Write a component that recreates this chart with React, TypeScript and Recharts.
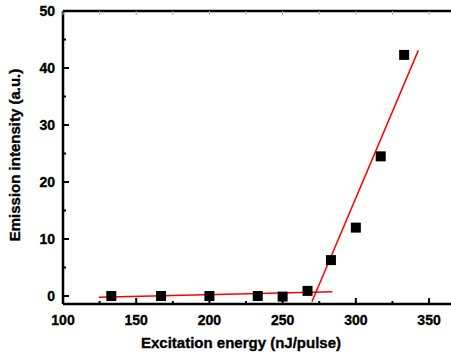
import { ComposedChart, Scatter, XAxis, YAxis, Label, ReferenceLine } from "recharts";

const energy = [133, 167, 200, 233, 250, 267, 283, 300, 317, 333];
const intensity = [0, 0, 0, 0, -0.1, 0.9, 6.3, 12, 24.5, 42.3];

const lowFit = [
  { x: 124.5, y: -0.2 },
  { x: 284, y: 0.75 },
];
const highFit = [
  { x: 270, y: -1.0 },
  { x: 342.7, y: 43.1 },
];

const xMajor = [100, 150, 200, 250, 300, 350];
const xTicks = [100, 125, 150, 175, 200, 225, 250, 275, 300, 325, 350];
const yMajor = [0, 10, 20, 30, 40, 50];
const yTicks = [0, 5, 10, 15, 20, 25, 30, 35, 40, 45, 50];

const points = energy.map((x, i) => ({ x, y: intensity[i] }));

const FONT = "'Liberation Sans', Arial, sans-serif";
const textStyle = { fontFamily: FONT, fontWeight: 700, fill: "#000", stroke: "#000", strokeWidth: 0.35 };

function BottomTick({ x, y, payload }: any) {
  const major = xMajor.includes(payload.value);
  const axisY = y - 10;
  return (
    <g>
      <line x1={x} x2={x} y1={axisY} y2={axisY - (major ? 6 : 3)} stroke="#000" strokeWidth={2} />
      {major && (
        <text x={x} y={axisY + 21} textAnchor="middle" fontSize={14} style={textStyle}>
          {payload.value}
        </text>
      )}
    </g>
  );
}

function TopTick({ x, y }: any) {
  const axisY = y + 2;
  return <line x1={x} x2={x} y1={axisY} y2={axisY + 4} stroke="#aaa" strokeWidth={1} />;
}

function LeftTick({ x, y, payload }: any) {
  const major = yMajor.includes(payload.value);
  const axisX = x + 8;
  return (
    <g>
      <line x1={axisX} x2={axisX + (major ? 6 : 3)} y1={y} y2={y} stroke="#000" strokeWidth={2} />
      {major && (
        <text x={axisX - 8} y={y + 5} textAnchor="end" fontSize={14} style={textStyle}>
          {payload.value}
        </text>
      )}
    </g>
  );
}

const Square = (p: any) => <rect x={p.cx - 5} y={p.cy - 5} width={10} height={10} fill="#000" />;
const Nothing = () => <g />;

export default function App() {
  return (
    <div style={{ position: "absolute", left: 0, top: 0, background: "#fff" }}>
      <ComposedChart width={451} height={360} margin={{ top: 10, right: 0, left: 0, bottom: 0 }}>
        <XAxis
          xAxisId="top"
          orientation="top"
          type="number"
          dataKey="x"
          domain={[100, 365]}
          ticks={xTicks}
          height={1}
          tickSize={0}
          tickMargin={2}
          tickLine={false}
          tick={<TopTick />}
          axisLine={false}
          allowDataOverflow
          interval={0}
        />
        <XAxis
          type="number"
          dataKey="x"
          domain={[100, 365]}
          ticks={xTicks}
          height={56}
          tickSize={0}
          tickMargin={10}
          tickLine={false}
          tick={<BottomTick />}
          axisLine={{ stroke: "#000", strokeWidth: 2.5 }}
          allowDataOverflow
          interval={0}
        >
          <Label
            content={() => (
              <text x={241} y={348} textAnchor="middle" fontSize={15} style={textStyle}>
                Excitation energy (nJ/pulse)
              </text>
            )}
          />
        </XAxis>
        <YAxis
          type="number"
          dataKey="y"
          domain={[-1.4, 50]}
          ticks={yTicks}
          width={63}
          tickSize={0}
          tickMargin={8}
          tickLine={false}
          tick={<LeftTick />}
          axisLine={{ stroke: "#000", strokeWidth: 2.5 }}
          allowDataOverflow
          interval={0}
        >
          <Label
            content={() => (
              <text x={20} y={155} transform="rotate(-90 20 155)" textAnchor="middle" fontSize={15} style={textStyle}>
                Emission intensity (a.u.)
              </text>
            )}
          />
        </YAxis>
        <ReferenceLine y={50} stroke="#000" strokeWidth={2.5} ifOverflow="visible" />
        <Scatter data={lowFit} line={{ stroke: "#ff0000", strokeWidth: 1.5 }} shape={<Nothing />} isAnimationActive={false} />
        <Scatter data={highFit} line={{ stroke: "#ff0000", strokeWidth: 1.5 }} shape={<Nothing />} isAnimationActive={false} />
        <Scatter data={points} shape={<Square />} isAnimationActive={false} />
      </ComposedChart>
    </div>
  );
}
